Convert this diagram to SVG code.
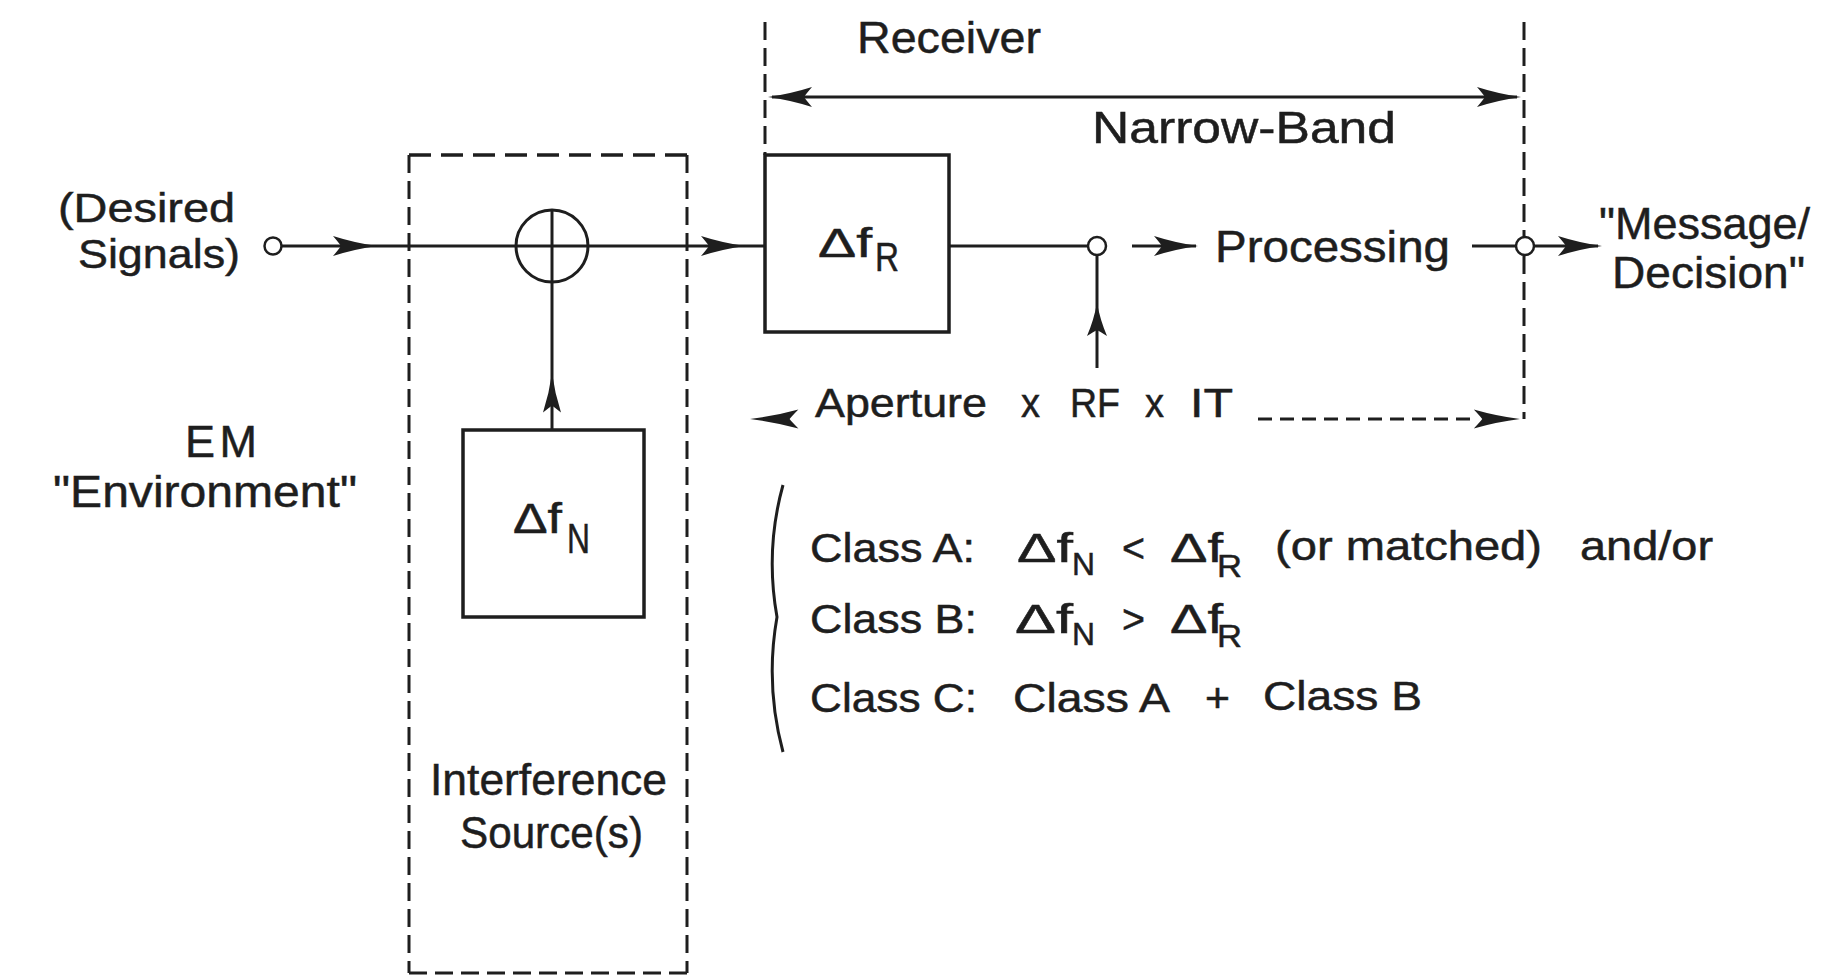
<svg xmlns="http://www.w3.org/2000/svg" xmlns:xlink="http://www.w3.org/1999/xlink" width="1827" height="978" viewBox="0 0 1827 978">
<style>
.t{font-family:"Liberation Sans",Arial,sans-serif;font-size:45px;fill:#1e1e1e;stroke:#1e1e1e;stroke-width:0.5}
.m{font-size:40px}
.s{font-size:32px}
.ln{stroke:#1e1e1e;stroke-width:3;fill:none}
.box{stroke:#1e1e1e;stroke-width:3.5;fill:none}
.dl{stroke:#1e1e1e;stroke-width:3;fill:none;stroke-dasharray:18 8}
.dt{stroke:#1e1e1e;stroke-width:3.5;fill:none;stroke-dasharray:22 10}
.dp{stroke:#1e1e1e;stroke-width:3;fill:none;stroke-dasharray:14 8}
.jn{stroke:#1e1e1e;stroke-width:2.5;fill:#fff}
.ah{fill:#1e1e1e}
</style>
<defs>
<path id="ah" d="M0,0 Q-22,-3 -44,-10 Q-38,-3 -36,0 Q-38,3 -44,10 Q-22,3 0,0 Z"/>
</defs>
<rect width="1827" height="978" fill="#fff"/>

<g id="connectors">
  <line class="ln" x1="281" y1="246" x2="765" y2="246"/>
  <use href="#ah" class="ah" transform="translate(377,246)"/>
  <use href="#ah" class="ah" transform="translate(745,246)"/>
  <line class="ln" x1="552" y1="210" x2="552" y2="430"/>
  <use href="#ah" class="ah" transform="translate(552,373) rotate(-90) scale(0.9,0.9)"/>
  <line class="ln" x1="949" y1="246" x2="1088" y2="246"/>
  <line class="ln" x1="1097" y1="255" x2="1097" y2="368"/>
  <use href="#ah" class="ah" transform="translate(1097,303) rotate(-90) scale(0.75,1)"/>
  <line class="ln" x1="1132" y1="246" x2="1196" y2="246"/>
  <use href="#ah" class="ah" transform="translate(1198,246)"/>
  <line class="ln" x1="1472" y1="246" x2="1516" y2="246"/>
  <line class="ln" x1="1534" y1="246" x2="1598" y2="246"/>
  <use href="#ah" class="ah" transform="translate(1602,246)"/>
</g>

<g id="interference-region">
  <line class="dt" x1="409" y1="155" x2="688" y2="155"/>
  <line class="dl" x1="409" y1="155" x2="409" y2="973"/>
  <line class="dl" x1="687" y1="155" x2="687" y2="973"/>
  <line class="dl" x1="409" y1="973" x2="688" y2="973"/>
  <text class="t" x="430" y="795" textLength="237" lengthAdjust="spacingAndGlyphs">Interference</text>
  <text class="t" x="460" y="848" textLength="183" lengthAdjust="spacingAndGlyphs">Source(s)</text>
</g>

<g id="input-node">
  <circle class="jn" cx="273" cy="246" r="8.5"/>
  <text class="t" style="font-size:41px" x="58" y="222" textLength="177" lengthAdjust="spacingAndGlyphs">(Desired</text>
  <text class="t" style="font-size:41px" x="78" y="268" textLength="162" lengthAdjust="spacingAndGlyphs">Signals)</text>
</g>

<g id="em-label">
  <text class="t" x="185" y="457" textLength="72" lengthAdjust="spacing">EM</text>
  <text class="t" x="53" y="507" textLength="304" lengthAdjust="spacingAndGlyphs">"Environment"</text>
</g>

<g id="sum-node">
  <circle class="ln" cx="552" cy="246" r="36"/>
</g>

<g id="noise-box">
  <rect class="box" x="463" y="430" width="181" height="187"/>
  <text class="t" style="font-size:42px" x="513" y="533" textLength="49" lengthAdjust="spacingAndGlyphs">Δf</text>
  <text class="t" style="font-size:42px" x="567" y="553" textLength="23" lengthAdjust="spacingAndGlyphs">N</text>
</g>

<g id="receiver-region">
  <line class="dl" x1="765" y1="22" x2="765" y2="155"/>
  <line class="dl" x1="1524" y1="22" x2="1524" y2="419"/>
  <text class="t" x="857" y="53" textLength="184" lengthAdjust="spacingAndGlyphs">Receiver</text>
</g>

<g id="narrowband">
  <line class="ln" x1="772" y1="97" x2="1517" y2="97"/>
  <use href="#ah" class="ah" transform="translate(768,97) rotate(180)"/>
  <use href="#ah" class="ah" transform="translate(1521,97)"/>
  <text class="t" x="1092" y="143" textLength="304" lengthAdjust="spacingAndGlyphs">Narrow-Band</text>
</g>

<g id="receiver-box">
  <rect class="box" x="765" y="155" width="184" height="177"/>
  <text class="t m" x="818" y="257" textLength="54" lengthAdjust="spacingAndGlyphs">Δf</text>
  <text class="t m" x="875" y="271" textLength="24" lengthAdjust="spacingAndGlyphs">R</text>
</g>

<g id="junction1">
  <circle class="jn" cx="1097" cy="246" r="9"/>
</g>

<g id="processing">
  <text class="t" x="1215" y="262" textLength="235" lengthAdjust="spacingAndGlyphs">Processing</text>
</g>

<g id="junction2">
  <circle class="jn" cx="1525" cy="246" r="9"/>
</g>

<g id="output">
  <text class="t" x="1599" y="239" textLength="211" lengthAdjust="spacingAndGlyphs">"Message/</text>
  <text class="t" x="1612" y="288" textLength="193" lengthAdjust="spacingAndGlyphs">Decision"</text>
</g>

<g id="aperture">
  <use href="#ah" class="ah" transform="translate(750,419) rotate(180) scale(1.1,0.95)"/>
  <text class="t m" x="815" y="417" textLength="172" lengthAdjust="spacingAndGlyphs">Aperture</text>
  <text class="t m" x="1021" y="417" textLength="19" lengthAdjust="spacingAndGlyphs">x</text>
  <text class="t m" x="1070" y="417" textLength="50" lengthAdjust="spacingAndGlyphs">RF</text>
  <text class="t m" x="1145" y="417" textLength="19" lengthAdjust="spacingAndGlyphs">x</text>
  <text class="t m" x="1190" y="417" textLength="43" lengthAdjust="spacingAndGlyphs">IT</text>
  <line class="dp" x1="1258" y1="419" x2="1478" y2="419"/>
  <use href="#ah" class="ah" transform="translate(1520,419) scale(1.05,0.95)"/>
</g>

<g id="classes">
  <path class="ln" stroke-width="2.5" d="M783,485 Q765,550 777,617 Q765,685 783,752"/>
  <text class="t m" x="810" y="562" textLength="165" lengthAdjust="spacingAndGlyphs">Class A:</text>
  <text class="t m" x="1017" y="562" textLength="56" lengthAdjust="spacingAndGlyphs">Δf</text>
  <text class="t s" x="1072" y="575" textLength="23" lengthAdjust="spacingAndGlyphs">N</text>
  <text class="t m" x="1122" y="562" textLength="23" lengthAdjust="spacingAndGlyphs">&lt;</text>
  <text class="t m" x="1170" y="562" textLength="53" lengthAdjust="spacingAndGlyphs">Δf</text>
  <text class="t s" x="1217" y="577" textLength="25" lengthAdjust="spacingAndGlyphs">R</text>
  <text class="t m" x="1275" y="560" textLength="267" lengthAdjust="spacingAndGlyphs">(or matched)</text>
  <text class="t m" x="1580" y="560" textLength="133" lengthAdjust="spacingAndGlyphs">and/or</text>

  <text class="t m" x="810" y="633" textLength="167" lengthAdjust="spacingAndGlyphs">Class B:</text>
  <text class="t m" x="1015" y="633" textLength="58" lengthAdjust="spacingAndGlyphs">Δf</text>
  <text class="t s" x="1072" y="645" textLength="23" lengthAdjust="spacingAndGlyphs">N</text>
  <text class="t m" x="1122" y="633" textLength="23" lengthAdjust="spacingAndGlyphs">&gt;</text>
  <text class="t m" x="1170" y="633" textLength="53" lengthAdjust="spacingAndGlyphs">Δf</text>
  <text class="t s" x="1217" y="647" textLength="25" lengthAdjust="spacingAndGlyphs">R</text>

  <text class="t m" x="810" y="712" textLength="167" lengthAdjust="spacingAndGlyphs">Class C:</text>
  <text class="t m" x="1013" y="712" textLength="157" lengthAdjust="spacingAndGlyphs">Class A</text>
  <text class="t m" x="1205" y="712" textLength="25" lengthAdjust="spacingAndGlyphs">+</text>
  <text class="t m" x="1263" y="710" textLength="159" lengthAdjust="spacingAndGlyphs">Class B</text>
</g>
</svg>
